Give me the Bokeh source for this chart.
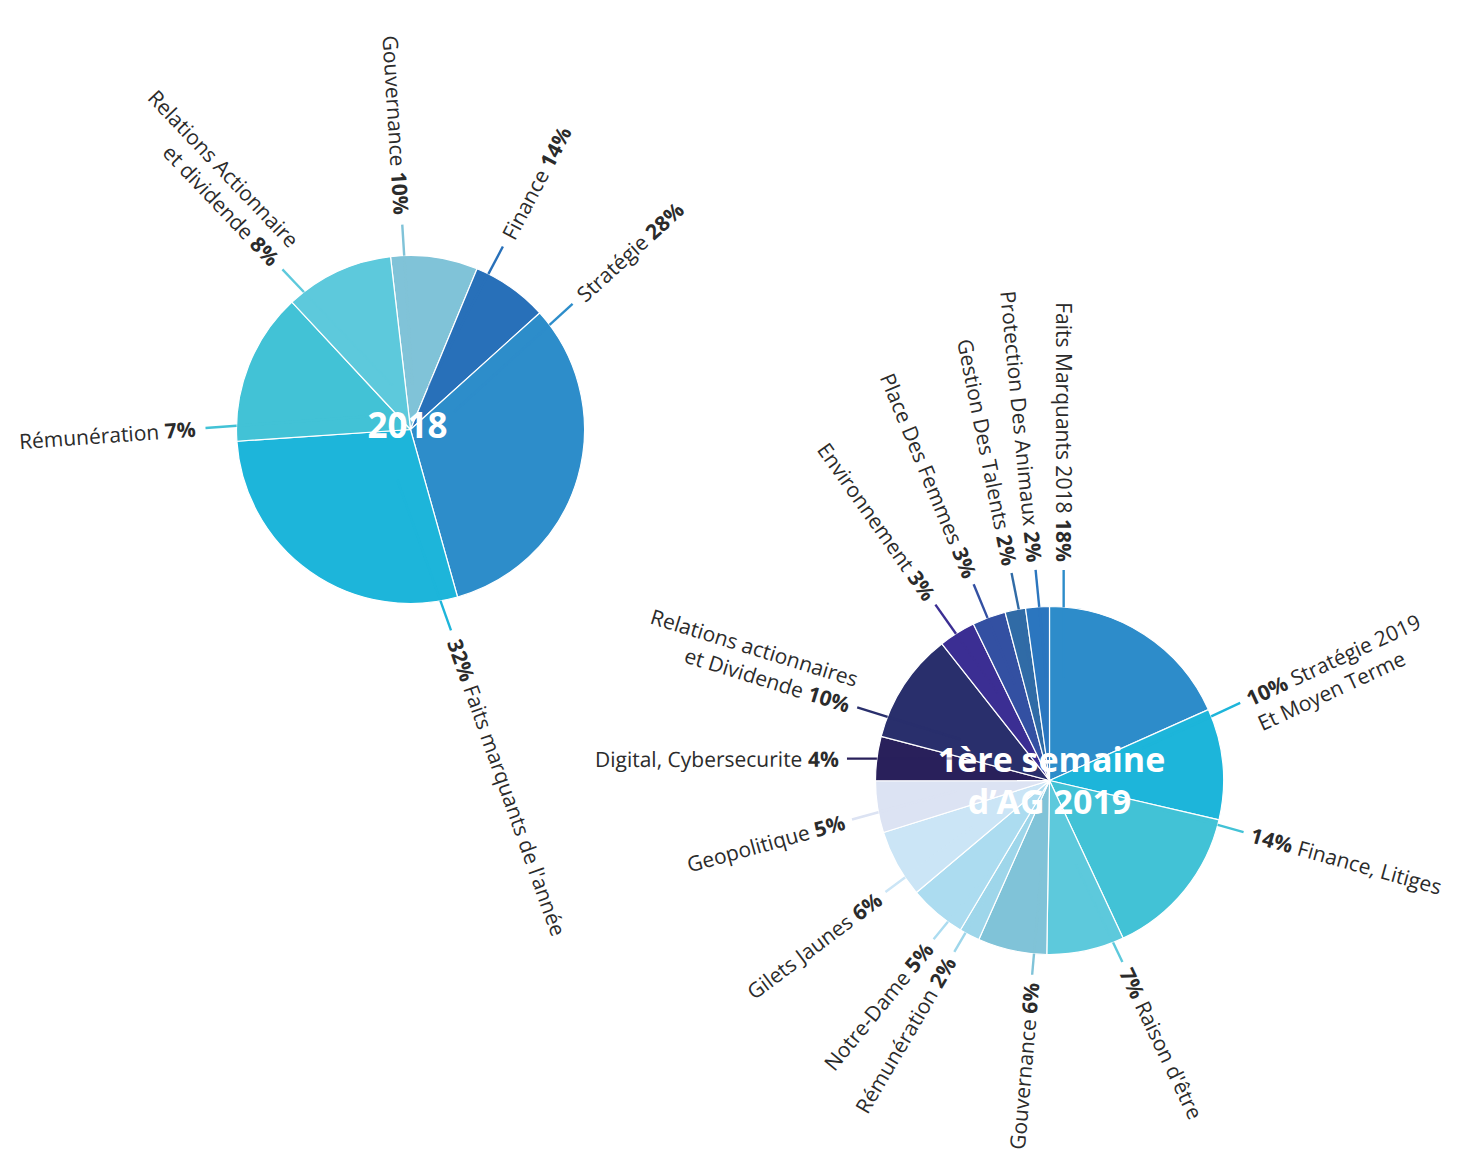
import math
from bokeh.plotting import figure
from bokeh.models import Range1d, ColumnDataSource
from bokeh.embed import file_html
from bokeh.resources import INLINE
from bokeh.core.properties import value

# ------------------------------------------------------------------ data
pie2018_title = ["2018"]
pie2018_names = ["Gouvernance", "Finance", "Stratégie",
                 "Faits marquants de l'année", "Rémunération",
                 "Relations Actionnaire\net dividende"]
pie2018_pct = ["10%", "14%", "28%", "32%", "7%", "8%"]
# slice sizes as they are drawn in the picture (clockwise)
pie2018_shares = [8, 7, 32, 28, 14, 10]

pie2019_title = ["1ère semaine", "d’AG 2019"]
pie2019_names = ["Faits Marquants 2018", "Stratégie 2019\nEt Moyen Terme",
                 "Finance, Litiges", "Raison d'être", "Gouvernance",
                 "Rémunération", "Notre-Dame", "Gilets Jaunes", "Geopolitique",
                 "Digital, Cybersecurite", "Relations actionnaires\net Dividende",
                 "Environnement", "Place Des Femmes", "Gestion Des Talents",
                 "Protection Des Animaux"]
pie2019_pct = ["18%", "10%", "14%", "7%", "6%", "2%", "5%", "6%", "5%", "4%",
               "10%", "3%", "3%", "2%", "2%"]
pie2019_shares = [18.3, 10.3, 14.4, 7.2, 6.4, 1.9, 5.3, 6.3, 4.8, 4.1, 10.3,
                  3.4, 3.1, 1.9, 2.2]

# ------------------------------------------------------------------ styles / layout
pie2018_colors = ["#80c3d8", "#2870b9", "#2d8dca", "#1db5da", "#42c2d6", "#5dc9dc"]
pie2018_pct_first = [False, False, False, True, False, False]
pie2018_tilt = [3.0, 5.3, -0.2, -3.9, -0.2, -0.6]     # label direction vs slice start (deg)
pie2019_colors = ["#2d8cca", "#1db5da", "#42c2d6", "#5dc9dc", "#80c3d8",
                  "#9ed6ea", "#acdcf0", "#cbe5f6", "#dce3f3", "#29205b",
                  "#292f6c", "#3b2e93", "#3350a2", "#306ba6", "#2b76bf"]
pie2019_pct_first = [True] * 15
pie2019_tilt = [0.0, -0.8, 2.5, -0.5, 4.1, 6.5, 8.6, 3.2, 2.0, 0.0, 2.5, 3.0,
                3.5, 3.5, 2.3]

cfg2018 = dict(cx=410, cy=429, R=174, start=353.4, lcx=410, lcy=429,
               delta=4.3, r_out=205, rho=45, gap=10)
cfg2019 = dict(cx=1049, cy=780, R=174, start=0.0, lcx=1049, lcy=772,
               delta=4.0, r_out=203, rho=95, gap=8)

FONT = "Open Sans"
FS = 21
LH = 27
TXT = "#2b2b2b"
PAGE_W, PAGE_H = 1461, 1155

REG = {' ': .26, 'a': .556, 'b': .613, 'c': .48, 'd': .613, 'e': .561, 'f': .339,
       'g': .548, 'h': .614, 'i': .253, 'j': .253, 'k': .525, 'l': .253, 'm': .932,
       'n': .614, 'o': .604, 'p': .613, 'q': .613, 'r': .408, 's': .477, 't': .353,
       'u': .614, 'v': .501, 'w': .778, 'x': .524, 'y': .502, 'z': .477,
       'A': .633, 'B': .648, 'C': .631, 'D': .729, 'E': .556, 'F': .516, 'G': .728,
       'H': .738, 'I': .291, 'J': .252, 'K': .576, 'L': .519, 'M': .905, 'N': .756,
       'O': .779, 'P': .602, 'Q': .779, 'R': .618, 'S': .549, 'T': .553, 'U': .729,
       'V': .592, 'W': .925, 'X': .577, 'Y': .556, 'Z': .556, '%': .826, ',': .245,
       '.': .266, "'": .186, '’': .174, '-': .322, 'é': .561, 'è': .561, 'ê': .561}


def tw(s, bold=False):
    w = 0.0
    for ch in s:
        if bold:
            w += .572 if ch.isdigit() else (.91 if ch == '%' else REG.get(ch, .57) * 1.08)
        else:
            w += .572 if ch.isdigit() else REG.get(ch, .56)
    return w * FS


def Y(y):
    return PAGE_H - y


p = figure(width=PAGE_W, height=PAGE_H, x_range=Range1d(0, PAGE_W),
           y_range=Range1d(0, PAGE_H),
           output_backend="svg", toolbar_location=None, min_border=0,
           x_axis_type=None, y_axis_type=None)
p.grid.grid_line_color = None
p.outline_line_color = None
p.background_fill_color = "white"
p.border_fill_color = "white"

texts = {}


def add_text(x, y, s, ang, bold, align):
    d = texts.setdefault((bold, align), dict(x=[], y=[], text=[], angle=[]))
    d["x"].append(x)
    d["y"].append(Y(y))
    d["text"].append(s)
    d["angle"].append(ang)


inner_lines = dict(xs=[], ys=[], color=[])
outer_lines = dict(xs=[], ys=[], color=[])


def draw_pie(cfg, names, pct, shares, colors, pct_first, tilt):
    cx, cy, R = cfg["cx"], cfg["cy"], cfg["R"]
    total = float(sum(shares))
    a = cfg["start"]
    starts, ends = [], []
    for s in shares:
        starts.append(a)
        a += s / total * 360.0
        ends.append(a)
    src = ColumnDataSource(dict(
        start=[math.radians(90 - e) for e in ends],
        end=[math.radians(90 - s) for s in starts],
        color=colors))
    p.wedge(x=cx, y=Y(cy), radius=R, start_angle="start", end_angle="end",
            direction="anticlock", fill_color="color", line_color="white",
            line_width=1.2, source=src)

    for i in range(len(shares)):
        th_deg = (starts[i] + cfg["delta"]) % 360
        th = math.radians(th_deg)
        # anchor point of the label (end of the leader line)
        pox = cfg["lcx"] + cfg["r_out"] * math.sin(th)
        poy = cfg["lcy"] - cfg["r_out"] * math.cos(th)
        # direction of leader line and text
        ph = math.radians(starts[i] + tilt[i])
        ux, uy = math.sin(ph), -math.cos(ph)
        L = cfg["r_out"] - cfg["rho"]
        pix, piy = pox - L * ux, poy - L * uy
        dx, dy = pox - pix, poy - piy
        fx, fy = pix - cx, piy - cy
        A = dx * dx + dy * dy
        B = 2 * (fx * dx + fy * dy)
        C = fx * fx + fy * fy - R * R
        t = (-B + math.sqrt(max(B * B - 4 * A * C, 0))) / (2 * A)
        pex, pey = pix + t * dx, piy + t * dy
        inner_lines["xs"].append([pix, pex])
        inner_lines["ys"].append([Y(piy), Y(pey)])
        inner_lines["color"].append(colors[i])
        outer_lines["xs"].append([pex, pox])
        outer_lines["ys"].append([Y(pey), Y(poy)])
        outer_lines["color"].append(colors[i])

        # label
        inward = not (8 < th_deg < 180)
        rx, ry = (-ux, -uy) if inward else (ux, uy)
        downx, downy = -ry, rx
        ang = math.atan2(-ry, rx)
        ax = pox + cfg["gap"] * ux
        ay = poy + cfg["gap"] * uy
        lines = [[(t_, False)] for t_ in names[i].split("\n")]
        if inward or not pct_first[i]:
            lines[-1].append((pct[i], True))
            k = len(lines) - 1
        else:
            lines[0].insert(0, (pct[i], True))
            k = 0
        sp = tw(" ")
        for j, segs in enumerate(lines):
            off = (j - k) * LH
            bx, by = ax + off * downx, ay + off * downy
            cur = 0.0
            if inward:
                for s, b in reversed(segs):
                    add_text(bx - cur * rx, by - cur * ry, s, ang, b, "right")
                    cur += tw(s, b) + sp
            else:
                for s, b in segs:
                    add_text(bx + cur * rx, by + cur * ry, s, ang, b, "left")
                    cur += tw(s, b) + sp


draw_pie(cfg2018, pie2018_names, pie2018_pct, pie2018_shares, pie2018_colors,
         pie2018_pct_first, pie2018_tilt)
draw_pie(cfg2019, pie2019_names, pie2019_pct, pie2019_shares, pie2019_colors,
         pie2019_pct_first, pie2019_tilt)

# titles
p.text(x=[cfg2018["cx"] - 3], y=[Y(cfg2018["cy"] - 5)], text=pie2018_title,
       text_align="center", text_baseline="middle", text_font=value(FONT),
       text_font_size="35px", text_font_style="bold", text_color="white")
p.text(x=[cfg2019["cx"] + 2, cfg2019["cx"]],
       y=[Y(cfg2019["cy"] - 22), Y(cfg2019["cy"] + 20)], text=pie2019_title,
       text_align="center", text_baseline="middle", text_font=value(FONT),
       text_font_size="34px", text_font_style="bold", text_color="white")

p.multi_line(xs="xs", ys="ys", line_color="color", line_width=2.4, line_alpha=0.35,
             source=ColumnDataSource(inner_lines))
p.multi_line(xs="xs", ys="ys", line_color="color", line_width=2.4,
             source=ColumnDataSource(outer_lines))

for (bold, align), d in texts.items():
    p.text(x="x", y="y", text="text", angle="angle", source=ColumnDataSource(d),
           text_align=align, text_baseline="middle", text_font=value(FONT),
           text_font_size=f"{FS}px", text_font_style="bold" if bold else "normal",
           text_color=TXT)

open("out.html", "w").write(file_html(p, INLINE))
